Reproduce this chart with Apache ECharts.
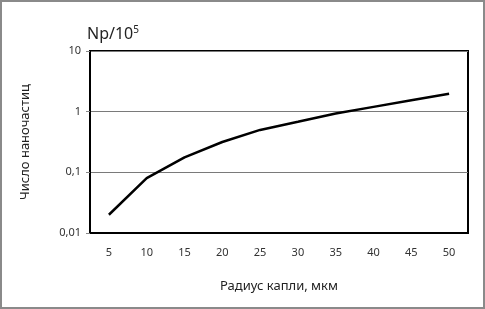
<!DOCTYPE html>
<html><head><meta charset="utf-8">
<script src="https://cdn.jsdelivr.net/npm/echarts@6/dist/echarts.min.js"></script>
<style>
html,body{margin:0;padding:0;background:#fff;}
#c{width:485px;height:309px;box-sizing:border-box;border:2px solid #8a8a8a;}
</style></head>
<body><div id="c"></div>
<script>
const categories = ['5','10','15','20','25','30','35','40','45','50'];
const values = [0.02, 0.08, 0.177, 0.316, 0.50, 0.68, 0.93, 1.2, 1.54, 1.97];
const yTicks = [0.01, 0.1, 1, 10];

const chart = echarts.init(document.getElementById('c'));
const font = 'Noto Sans';
chart.setOption({
  animation:false,
  title:{
    text:'{a|Np/10}{b|5}',
    left:80, top:18,
    textStyle:{fontWeight:'normal',rich:{
      a:{fontSize:16,fontFamily:font,color:'#222',fontWeight:'normal'},
      b:{fontSize:10,fontFamily:font,color:'#222',fontWeight:'normal',verticalAlign:'top',padding:[0,0,9,0]}
    }}
  },
  grid:{left:88, right:15, top:49, bottom:74, show:true, borderColor:'#000', borderWidth:2},
  xAxis:{
    type:'category', data:categories, boundaryGap:true,
    axisLine:{lineStyle:{color:'#000',width:2}},
    axisTick:{show:false},
    axisLabel:{fontSize:11,fontFamily:font,color:'#333',margin:14},
    name:'Радиус капли, мкм', nameLocation:'middle', nameGap:47,
    nameTextStyle:{fontSize:13,fontFamily:font,color:'#222'}
  },
  yAxis:{
    type:'log', logBase:10, min:0.01, max:10,
    axisLine:{show:true,lineStyle:{color:'#000',width:2}},
    axisTick:{show:true,length:4,lineStyle:{color:'#888'}},
    axisLabel:{fontSize:11,fontFamily:font,color:'#333',margin:9,
      formatter:v=>{const t=yTicks.find(x=>Math.abs(x-v)/x<1e-6);return t===undefined?'':String(t).replace('.',',');}},
    splitLine:{show:true,lineStyle:{color:'#7a7a7a',width:1}},
    minorTick:{show:false},
    name:'Число наночастиц', nameLocation:'middle', nameGap:58, nameRotate:90,
    nameTextStyle:{fontSize:13,fontFamily:font,color:'#222'}
  },
  series:[{
    type:'line', data:values, showSymbol:false, symbol:'none',
    lineStyle:{color:'#000',width:2.5}
  }]
});
</script></body></html>
